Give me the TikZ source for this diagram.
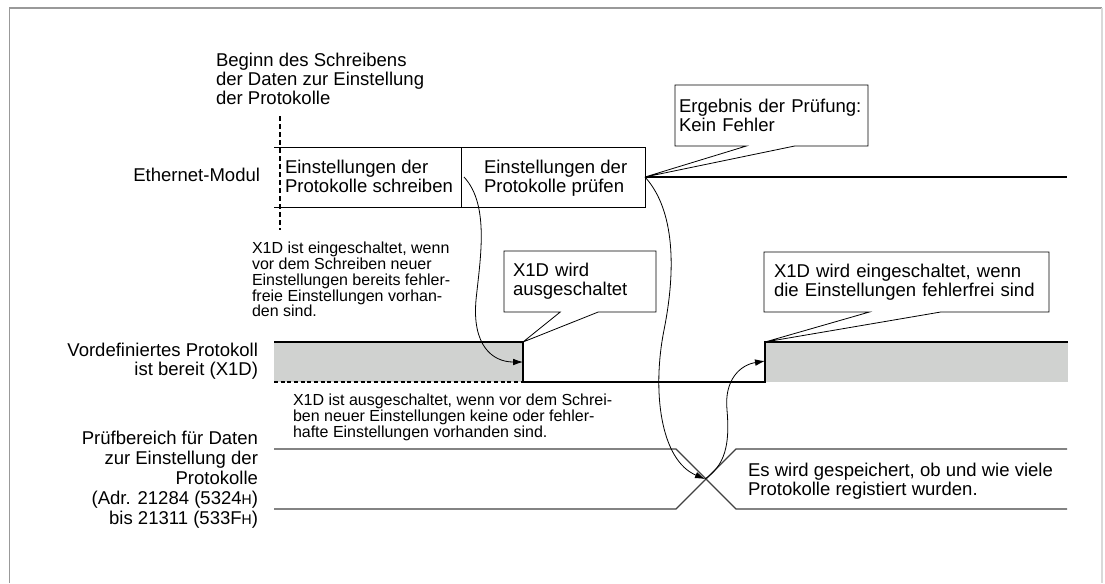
\documentclass[tikz,border=0pt]{standalone}
\usepackage{fontspec}
\setmainfont{Liberation Sans}
\usepackage{tikz}
\usetikzlibrary{calc,arrows.meta}
\definecolor{sigfill}{RGB}{208,210,208}
\newcommand{\hexh}{{\fontsize{10.5}{14}\selectfont H}}

\begin{document}
\begin{tikzpicture}[x=0.75pt,y=-0.75pt,
		bigtext/.style={font=\fontsize{13.9}{14.2}\selectfont, inner sep=0pt, outer sep=0pt},
		smalltext/.style={font=\fontsize{12}{11.8}\selectfont, inner sep=0pt, outer sep=0pt, align=left, anchor=north west},
		callbox/.style={bigtext, align=left, inner ysep=0pt},
		sigline/.style={line width=0.9pt},
		arrowline/.style={line width=0.6pt, -{Latex[length=7.5pt,width=5pt]}}]
			\useasboundingbox (0,0) rectangle (1105,583);
			
			% 外框
			\draw[gray!80, line width=1.2pt] (9.6,583) -- (9.6,8) -- (1102,8);
			\draw[gray!30, line width=0.8pt] (1102,8) -- (1102,583);
			
			% 时间点
			\coordinate (divpt) at (464,177);
			\coordinate (chkend) at (645,177);
			\coordinate (fall) at (523,342);
			\coordinate (rise) at (765,342);
			\coordinate (fallmid) at (523,362);
			\coordinate (risemid) at (765,361);
			\coordinate (cross) at (705,479);
			
			% Ethernet-Modul
			\node[bigtext, align=left, anchor=north west] (beginlabel) at (216,53.4) {Beginn des Schreibens\\der Daten zur Einstellung\\der Protokolle};
			\draw[line width=1.3pt, dash pattern=on 4pt off 2pt] (280,116) -- (280,230);
			\draw[line width=0.7pt] (274,147) -- (chkend |- 0,147) -- (chkend |- 0,207) -- (274,207);
			\draw[line width=0.7pt] (461,147) -- (461,207);
			\draw[line width=1.8pt] (chkend) -- (1067,177);
			\node[bigtext, anchor=base east] (ethlabel) at (260,181) {Ethernet-Modul};
			\node[bigtext, align=left, anchor=north west] (writetext) at (285,160.4) {Einstellungen der\\Protokolle schreiben};
			\node[bigtext, align=left, anchor=north west] (checktext) at (484,160.4) {Einstellungen der\\Protokolle prüfen};
			
			% X1D
			\fill[sigfill] (274,342) rectangle (fall |- 0,382);
			\fill[sigfill] (rise) rectangle (1068,382);
			\draw[sigline] (274,342) -- (fall) -- (fall |- 0,382) -- (rise |- 0,382) -- (rise) -- (1068,342);
			\draw[sigline, dash pattern=on 3pt off 2pt] (274,382) -- (fall |- 0,382);
			\node[bigtext, align=right, anchor=north east] (x1dlabel) at (258,343.4) {Vordefiniertes Protokoll\\ist bereit (X1D)};
			
			% Prüfbereich
			\foreach \a/\b in {449/509,509/449} {
				\draw[sigline, black!75] (274,\a) -- (676,\a) -- (736,\b) -- (1067,\b);
			}
			\node[bigtext, align=right, anchor=north east, font=\fontsize{13.9}{15}\selectfont] (arealabel) at (258,431.4) {Prüfbereich für Daten\\zur Einstellung der\\Protokolle\\(Adr. 21284 (5324\hexh)\\bis 21311 (533F\hexh)};
			\node[bigtext, align=left, anchor=north west] (storetext) at (748,463.4) {Es wird gespeichert, ob und wie viele\\Protokolle registiert wurden.};
			
			% 标注
			\node[callbox, inner xsep=3pt, minimum width=144.75pt, minimum height=45.75pt, text width=138.75pt] (resultbox) at (771.5,115.5) {Ergebnis der Prüfung:\\Kein Fehler};
			\node[callbox, inner xsep=6.75pt, minimum width=114pt, minimum height=45.75pt, text width=100.5pt] (offbox) at (580,281.5) {X1D wird\\ausgeschaltet};
			\node[callbox, inner xsep=7.5pt, minimum width=213.75pt, minimum height=45pt, text width=198.75pt] (onbox) at (906.5,282) {X1D wird eingeschaltet, wenn\\die Einstellungen fehlerfrei sind};
			\foreach \cb/\ap in {resultbox/chkend,offbox/fall,onbox/rise} {
				\draw[line width=0.6pt] (\cb.south west) -- (\cb.north west) -- (\cb.north east) -- (\cb.south east)
				-- ($(\cb.south west)!0.62!(\cb.south east)$) -- (\ap) -- ($(\cb.south west)!0.37!(\cb.south east)$) -- cycle;
			}
			\node[smalltext] (oninfo) at (252,242.3) {X1D ist eingeschaltet, wenn\\vor dem Schreiben neuer\\Einstellungen bereits fehler-\\freie Einstellungen vorhan-\\den sind.};
			\node[smalltext] (offinfo) at (293,394.3) {X1D ist ausgeschaltet, wenn vor dem Schrei-\\ben neuer Einstellungen keine oder fehler-\\hafte Einstellungen vorhanden sind.};
			
			% 箭头
			\draw[arrowline] (divpt) .. controls (490,205) and (480,260) .. (476,300) .. controls (472,345) and (492,362) .. (fallmid);
			\draw[arrowline] (chkend) .. controls (675,210) and (676,270) .. (664,330) .. controls (652,390) and (660,460) .. (cross);
			\draw[arrowline] (cross) .. controls (725,465) and (730,445) .. (727,410) .. controls (724,380) and (740,365) .. (risemid);
		\end{tikzpicture}
\end{document}
